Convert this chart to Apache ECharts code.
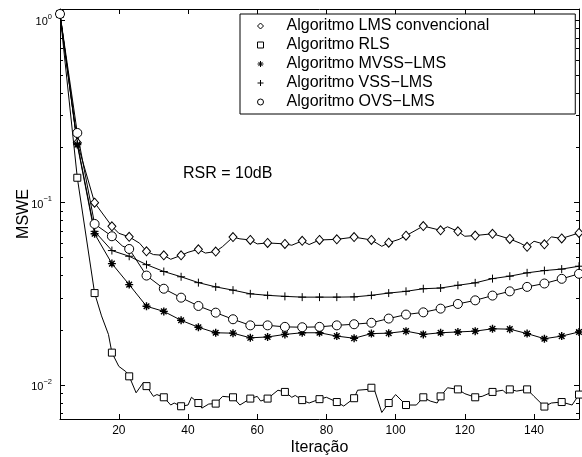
<!DOCTYPE html>
<html lang="pt">
<head>
<meta charset="utf-8">
<title>MSWE x Iteração</title>
<script src="https://cdn.jsdelivr.net/npm/echarts@6/dist/echarts.min.js"></script>
<style>
    html, body { margin: 0; padding: 0; background: #fff; }
    #main { width: 582px; height: 457px; }
</style>
</head>
<body>
<div id="main"></div>
<script type="text/javascript">
    // iterações com marcador (a cada 5)
    var markIter = [3, 8, 13, 18, 23, 28, 33, 38, 43, 48, 53, 58, 63, 68, 73, 78, 83, 88, 93, 98,
        103, 108, 113, 118, 123, 128, 133, 138, 143, 148, 153];

    var lmsMark = [1.08, 0.213, 0.1, 0.0743, 0.065, 0.0542, 0.0515, 0.0515, 0.0556, 0.054, 0.0648,
        0.0625, 0.0602, 0.0595, 0.0618, 0.0625, 0.063, 0.0648, 0.0625, 0.0604, 0.066, 0.0745,
        0.0706, 0.0697, 0.0661, 0.0676, 0.0633, 0.0573, 0.0592, 0.0637, 0.0683];
    var rlsMark = [1.08, 0.137, 0.032, 0.0151, 0.0112, 0.0099, 0.0086, 0.00768, 0.008, 0.00794, 0.0086,
        0.00846, 0.00846, 0.0092, 0.0083, 0.0084, 0.0081, 0.0085, 0.0097, 0.008, 0.0078, 0.0086,
        0.0087, 0.0095, 0.0086, 0.0092, 0.0095, 0.0095, 0.00765, 0.0081, 0.0089];
    var mvssMark = [1.08, 0.208, 0.0676, 0.0464, 0.0356, 0.0271, 0.0254, 0.0227, 0.0208, 0.0194, 0.0193,
        0.0182, 0.0184, 0.019, 0.0194, 0.0194, 0.0186, 0.0181, 0.0192, 0.0193, 0.0198, 0.019,
        0.0194, 0.0196, 0.0198, 0.0204, 0.0203, 0.0192, 0.018, 0.0186, 0.0196];
    var vssMark = [1.08, 0.211, 0.0697, 0.0547, 0.0509, 0.0458, 0.042, 0.0393, 0.0365, 0.0346, 0.0332,
        0.0317, 0.0311, 0.0307, 0.0304, 0.0304, 0.0304, 0.0305, 0.0311, 0.032, 0.0327, 0.0338,
        0.0341, 0.0353, 0.0364, 0.0384, 0.0396, 0.0413, 0.0425, 0.0433, 0.0449];
    var ovsMark = [1.08, 0.241, 0.0765, 0.0655, 0.0558, 0.0399, 0.0338, 0.0302, 0.0272, 0.025, 0.023,
        0.0213, 0.0213, 0.0209, 0.0208, 0.0209, 0.0213, 0.0216, 0.022, 0.0232, 0.0244, 0.0251,
        0.0263, 0.0279, 0.0292, 0.031, 0.0327, 0.0346, 0.0361, 0.0383, 0.0408];

    // pontos intermediários (oscilações entre marcadores)
    var lmsMidIter = [20, 26, 30, 35, 40, 45, 50, 55, 60, 70, 75, 96, 101, 115, 120, 136, 140, 145];
    var lmsMid = [0.068, 0.06, 0.052, 0.049, 0.0535, 0.053, 0.0575, 0.0634, 0.0595, 0.0585, 0.059,
        0.0577, 0.063, 0.0738, 0.0655, 0.06, 0.0615, 0.065];
    var rlsMidIter = [15, 17, 20, 22, 25, 27, 30, 31, 35, 36, 40, 41, 44, 46, 50, 55, 60, 61, 66, 70,
        71, 75, 80, 85, 89, 92, 94, 96, 100, 106, 110, 112, 115, 120, 125, 131, 132, 135, 140, 145, 151];
    var rlsMid = [0.024, 0.019, 0.0127, 0.0119, 0.0091, 0.0103, 0.0087, 0.0089, 0.0078, 0.008, 0.0078,
        0.0086, 0.0075, 0.0079, 0.0087, 0.0078, 0.0087, 0.0082, 0.0094, 0.0086, 0.0088, 0.008,
        0.0086, 0.0077, 0.0094, 0.0095, 0.0093, 0.0071, 0.0089, 0.0078, 0.0082, 0.008, 0.0097,
        0.009, 0.0087, 0.0094, 0.009, 0.0093, 0.0087, 0.008, 0.0078];
    var ovsMidIter = [21];
    var ovsMid = [0.058];

    var xTicks = [20, 40, 60, 80, 100, 120, 140];
    var yMajor = [0.01, 0.1, 1];
    var yMinor = [0.007, 0.008, 0.009, 0.02, 0.03, 0.04, 0.05, 0.06, 0.07, 0.08, 0.09,
        0.2, 0.3, 0.4, 0.5, 0.6, 0.7, 0.8, 0.9];
    var yMin = 0.00654, yMax = 1.15;

    var names = ['Algoritmo LMS convencional', 'Algoritmo RLS', 'Algoritmo MVSS\u2212LMS',
        'Algoritmo VSS\u2212LMS', 'Algoritmo OVS\u2212LMS'];

    var starPath = 'path://M5 0 L5 10 M0 5 L10 5 M1.5 1.5 L8.5 8.5 M8.5 1.5 L1.5 8.5';
    var plusPath = 'path://M5 0 L5 10 M0 5 L10 5';

    function buildData(marks, midIter, mid) {
        var pts = [];
        for (var i = 0; i < markIter.length; i++) pts.push([markIter[i], marks[i]]);
        for (var j = 0; j < midIter.length; j++) pts.push([midIter[j], mid[j]]);
        pts.sort(function (a, b) { return a[0] - b[0]; });
        return pts;
    }

    function makeSeries(name, data, sym, size, bw) {
        return {
            name: name,
            type: 'line',
            data: data,
            showAllSymbol: true,
            symbol: function (v) { return markIter.indexOf(v[0]) >= 0 ? sym : 'none'; },
            symbolSize: size,
            itemStyle: { color: '#fff', borderColor: '#000', borderWidth: bw },
            lineStyle: { color: '#000', width: 1 },
            emphasis: { disabled: true },
            z: 3
        };
    }

    var myChart = echarts.init(document.getElementById('main'), null, { renderer: 'canvas' });

    var fontFam = '"Liberation Sans", Arial, Helvetica, sans-serif';

    function yLabel(v) {
        var e = Math.round(Math.log(v) / Math.LN10);
        return '{b|10}{s|' + (e < 0 ? '\u2212' + (-e) : e) + '}';
    }

    function logAxis(pos, ticks, len, withLabel, showLine) {
        var ax = {
            type: 'log',
            min: yMin,
            max: yMax,
            position: pos,
            axisLine: { show: showLine, onZero: false, lineStyle: { color: '#000', width: 1 } },
            axisTick: { inside: true, length: len, customValues: ticks, lineStyle: { color: '#000' } },
            axisLabel: { show: false },
            splitLine: { show: false },
            minorTick: { show: false }
        };
        if (withLabel) {
            ax.axisLabel = {
                show: true,
                customValues: yMajor,
                margin: 8,
                formatter: yLabel,
                rich: {
                    b: { fontSize: 11, color: '#000', fontFamily: fontFam, verticalAlign: 'bottom', lineHeight: 15 },
                    s: { fontSize: 7.5, color: '#000', fontFamily: fontFam, verticalAlign: 'top', lineHeight: 15 }
                }
            };
            ax.name = 'MSWE';
            ax.nameLocation = 'middle';
            ax.nameGap = 28;
            ax.nameMoveOverlap = false;
            ax.nameTextStyle = { fontSize: 16, color: '#000', fontFamily: fontFam };
        }
        return ax;
    }

    var option = {
        animation: false,
        backgroundColor: '#fff',
        textStyle: { fontFamily: fontFam },
        title: {
            text: 'RSR = 10dB',
            left: 183,
            top: 166,
            padding: 0,
            textStyle: { fontSize: 16, fontWeight: 'normal', color: '#000', fontFamily: fontFam }
        },
        legend: {
            orient: 'vertical',
            left: 240,
            top: 14,
            padding: [3, 86, 3, 17],
            itemWidth: 6,
            itemHeight: 6,
            itemGap: 1,
            selectedMode: false,
            backgroundColor: '#fff',
            borderColor: '#000',
            borderWidth: 1,
            textStyle: { fontSize: 16, color: '#000', lineHeight: 18, fontFamily: fontFam, padding: [0, 0, 0, 18] },
            itemStyle: { color: '#fff', borderColor: '#000', borderWidth: 1 },
            data: [
                { name: names[0], icon: 'path://M5 0 L10 5 L5 10 L0 5 Z' },
                { name: names[1], icon: 'path://M1 1 L9 1 L9 9 L1 9 Z' },
                { name: names[2], icon: starPath },
                { name: names[3], icon: plusPath },
                { name: names[4], icon: 'path://M1 5 A4 4 0 1 1 9 5 A4 4 0 1 1 1 5 Z' }
            ],
            z: 10
        },
        grid: {
            left: 60,
            right: 3,
            top: 9,
            bottom: 38,
            containLabel: false,
            outerBoundsMode: 'none'
        },
        xAxis: [{
            type: 'value',
            min: 3,
            max: 153,
            position: 'bottom',
            axisLine: { onZero: false, lineStyle: { color: '#000', width: 1 } },
            axisTick: { inside: true, length: 5, customValues: xTicks, lineStyle: { color: '#000' } },
            axisLabel: { customValues: xTicks, fontSize: 12, color: '#000', margin: 6, fontFamily: fontFam },
            splitLine: { show: false },
            name: 'Iteração',
            nameLocation: 'middle',
            nameGap: 21,
            nameMoveOverlap: false,
            nameTextStyle: { fontSize: 16, color: '#000', fontFamily: fontFam }
        }, {
            type: 'value',
            min: 3,
            max: 153,
            position: 'top',
            axisLine: { onZero: false, lineStyle: { color: '#000', width: 1 } },
            axisTick: { inside: true, length: 5, customValues: xTicks, lineStyle: { color: '#000' } },
            axisLabel: { show: false },
            splitLine: { show: false }
        }],
        yAxis: [
            logAxis('left', yMajor, 5, true, true),
            logAxis('left', yMinor, 3, false, false),
            logAxis('right', yMajor, 5, false, true),
            logAxis('right', yMinor, 3, false, false)
        ],
        series: [
            makeSeries(names[0], buildData(lmsMark, lmsMidIter, lmsMid), 'diamond', [8, 9], 1),
            makeSeries(names[1], buildData(rlsMark, rlsMidIter, rlsMid), 'rect', 7, 1),
            makeSeries(names[2], buildData(mvssMark, [], []), starPath, 8, 1.4),
            makeSeries(names[3], buildData(vssMark, [], []), plusPath, 8, 1),
            makeSeries(names[4], buildData(ovsMark, ovsMidIter, ovsMid), 'circle', 9, 1)
        ]
    };

    myChart.setOption(option);
</script>
</body>
</html>
